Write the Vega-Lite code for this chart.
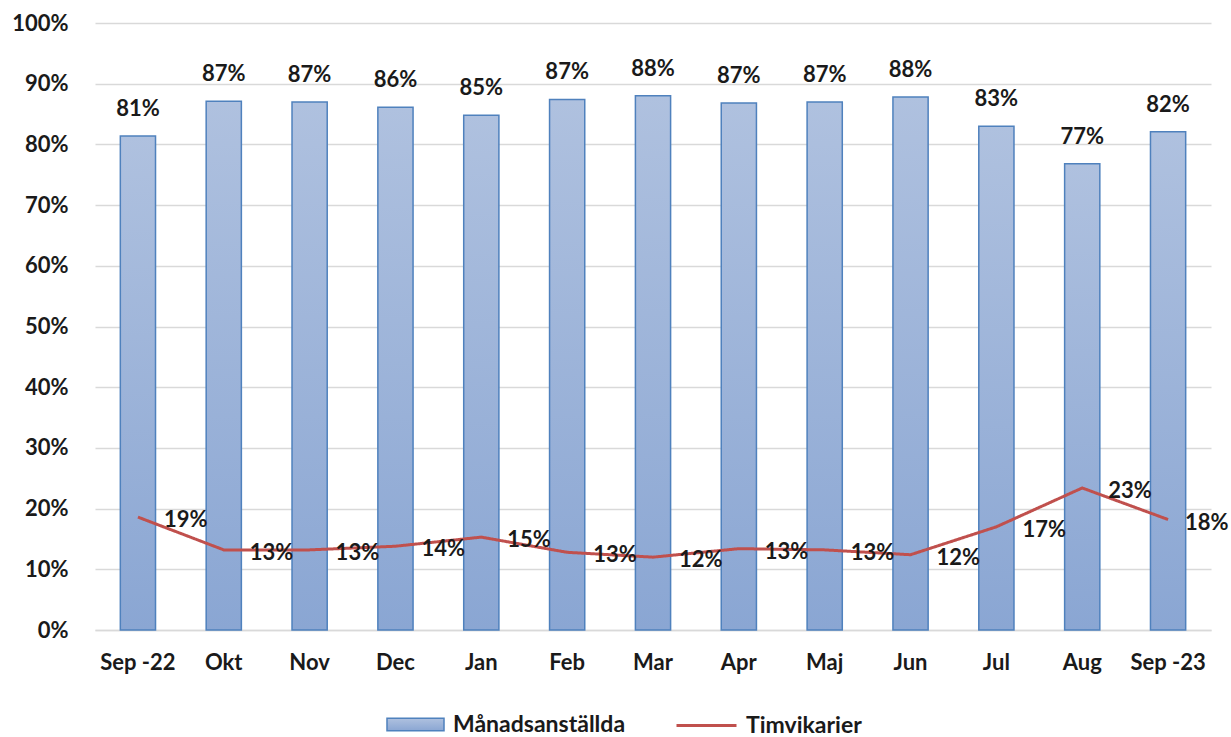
{
  "$schema": "https://vega.github.io/schema/vega-lite/v6.json",
  "width": 1116,
  "height": 607,
  "autosize": {"type": "none"},
  "padding": {"left": 95, "top": 23, "right": 20, "bottom": 107},
  "background": "white",
  "config": {
    "font": "Lato",
    "view": {"stroke": null},
    "axis": {
      "labelFont": "Lato",
      "labelFontSize": 22,
      "labelFontWeight": "bold",
      "labelColor": "#1a1a1a",
      "title": null,
      "ticks": false
    },
    "legend": {
      "title": null,
      "orient": "none",
      "direction": "horizontal",
      "labelFont": "Lato",
      "labelFontSize": 23,
      "labelFontWeight": "bold",
      "labelColor": "#1a1a1a",
      "labelOffset": 8,
      "labelLimit": 400
    }
  },
  "data": {
    "values": [
      {"month": "Sep -22", "manad": 0.814, "tim": 0.186},
      {"month": "Okt", "manad": 0.871, "tim": 0.132},
      {"month": "Nov", "manad": 0.870, "tim": 0.132},
      {"month": "Dec", "manad": 0.861, "tim": 0.138},
      {"month": "Jan", "manad": 0.848, "tim": 0.153},
      {"month": "Feb", "manad": 0.874, "tim": 0.128},
      {"month": "Mar", "manad": 0.880, "tim": 0.120},
      {"month": "Apr", "manad": 0.868, "tim": 0.134},
      {"month": "Maj", "manad": 0.870, "tim": 0.132},
      {"month": "Jun", "manad": 0.878, "tim": 0.124},
      {"month": "Jul", "manad": 0.830, "tim": 0.170},
      {"month": "Aug", "manad": 0.768, "tim": 0.234},
      {"month": "Sep -23", "manad": 0.821, "tim": 0.182}
    ]
  },
  "encoding": {
    "x": {
      "field": "month",
      "type": "ordinal",
      "sort": null,
      "scale": {"paddingInner": 0.59, "paddingOuter": 0.295},
      "axis": {"labelAngle": 0, "labelPadding": 22, "domain": true, "domainColor": "#d9d9d9", "domainWidth": 1.5}
    }
  },
  "layer": [
    {
      "mark": {
        "type": "bar",
        "fill": {
          "gradient": "linear", "x1": 0, "y1": 0, "x2": 0, "y2": 1,
          "stops": [{"offset": 0, "color": "#afc1df"}, {"offset": 1, "color": "#8aa6d3"}]
        },
        "strokeWidth": 1.5
      },
      "encoding": {
        "y": {
          "field": "manad",
          "type": "quantitative",
          "scale": {"domain": [0, 1]},
          "axis": {
            "format": ".0%",
            "values": [0, 0.1, 0.2, 0.3, 0.4, 0.5, 0.6, 0.7, 0.8, 0.9, 1],
            "domain": false,
            "grid": true,
            "gridColor": "#d9d9d9",
            "gridWidth": 1.5,
            "labelPadding": 27
          }
        },
        "stroke": {
          "datum": "Månadsanställda",
          "type": "nominal",
          "scale": {"domain": ["Månadsanställda"], "range": ["#4f81bd"]},
          "legend": {
            "legendX": 291,
            "legendY": 672,
            "symbolSize": 3250,
            "symbolType": "M-1,-0.22H1V0.22H-1Z",
            "symbolStrokeWidth": 1.5
          }
        }
      }
    },
    {
      "mark": {"type": "text", "baseline": "alphabetic", "dy": -20, "fontSize": 22, "fontWeight": "bold", "color": "#1a1a1a"},
      "encoding": {
        "y": {"field": "manad", "type": "quantitative"},
        "text": {"field": "manad", "type": "quantitative", "format": ".0%"}
      }
    },
    {
      "mark": {"type": "line", "strokeWidth": 3, "stroke": "#c0504d"},
      "encoding": {
        "y": {"field": "tim", "type": "quantitative"},
        "strokeDash": {
          "datum": "Timvikarier",
          "type": "nominal",
          "scale": {"domain": ["Timvikarier"], "range": [[1, 0]]},
          "legend": {
            "legendX": 580,
            "legendY": 671,
            "symbolSize": 3600,
            "symbolType": "stroke",
            "symbolStrokeColor": "#c0504d",
            "symbolStrokeWidth": 3
          }
        }
      }
    },
    {
      "mark": {"type": "text", "align": "left", "baseline": "middle", "dx": {"expr": "datum.month === 'Sep -23' ? 17 : 26"}, "dy": 3, "fontSize": 22, "fontWeight": "bold", "color": "#1a1a1a"},
      "encoding": {
        "y": {"field": "tim", "type": "quantitative"},
        "text": {"field": "tim", "type": "quantitative", "format": ".0%"}
      }
    }
  ]
}
